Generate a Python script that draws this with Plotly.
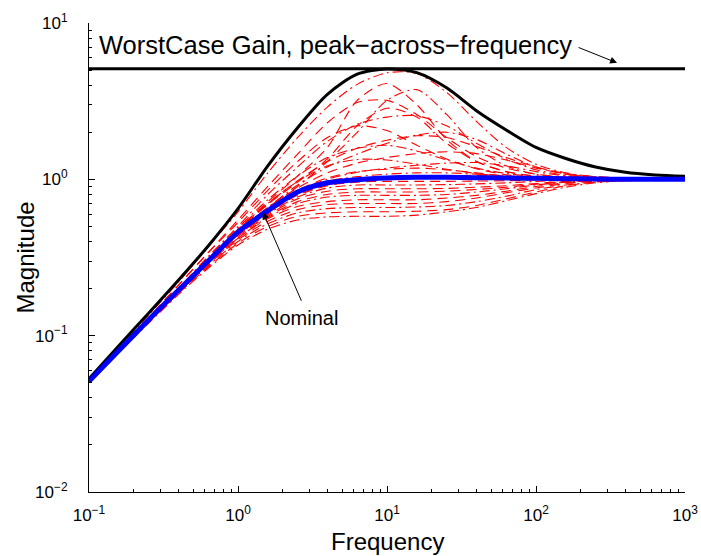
import plotly.graph_objects as go

# ---------------- data ----------------
freq_grid = [0.1, 0.158, 0.251, 0.398, 0.631, 1.0, 1.585, 2.512, 3.981, 6.31, 10.0,
             15.85, 25.12, 39.81, 63.1, 100.0, 158.5, 251.2, 398.1, 631.0, 1000.0]

# sampled (uncertain) responses, red
red_01 = [0.05, 0.082, 0.135, 0.22, 0.37, 0.62, 1.10, 1.85, 2.90, 4.05, 4.80, 4.75, 3.60, 2.35, 1.60, 1.25, 1.10, 1.04, 1.02, 1.01, 1.00]
red_02 = [0.05, 0.080, 0.130, 0.21, 0.34, 0.55, 0.90, 1.45, 2.30, 3.10, 3.20, 2.60, 1.85, 1.40, 1.18, 1.08, 1.03, 1.01, 1.00, 1.00, 1.00]
red_03 = [0.05, 0.080, 0.127, 0.20, 0.32, 0.50, 0.80, 1.20, 1.75, 2.25, 2.50, 2.55, 2.20, 1.70, 1.35, 1.15, 1.06, 1.02, 1.01, 1.00, 1.00]
red_04 = [0.05, 0.080, 0.130, 0.21, 0.34, 0.53, 0.85, 1.30, 1.85, 2.20, 2.05, 1.65, 1.35, 1.17, 1.07, 1.03, 1.01, 1.00, 1.00, 1.00, 1.00]
red_05 = [0.05, 0.080, 0.126, 0.195, 0.30, 0.47, 0.70, 0.98, 1.30, 1.58, 1.78, 1.90, 1.85, 1.62, 1.38, 1.20, 1.09, 1.04, 1.02, 1.01, 1.00]
red_06 = [0.05, 0.080, 0.127, 0.20, 0.32, 0.49, 0.74, 1.05, 1.38, 1.58, 1.65, 1.52, 1.33, 1.18, 1.09, 1.04, 1.02, 1.01, 1.00, 1.00, 1.00]
red_07 = [0.05, 0.080, 0.126, 0.195, 0.30, 0.46, 0.66, 0.88, 1.10, 1.27, 1.38, 1.46, 1.50, 1.46, 1.33, 1.18, 1.08, 1.03, 1.01, 1.00, 1.00]
red_08 = [0.05, 0.080, 0.127, 0.20, 0.31, 0.48, 0.70, 0.97, 1.22, 1.34, 1.33, 1.25, 1.16, 1.09, 1.04, 1.02, 1.01, 1.00, 1.00, 1.00, 1.00]
red_09 = [0.05, 0.080, 0.126, 0.195, 0.30, 0.45, 0.64, 0.84, 1.00, 1.11, 1.18, 1.23, 1.27, 1.28, 1.22, 1.12, 1.05, 1.02, 1.01, 1.00, 1.00]
red_10 = [0.05, 0.080, 0.126, 0.195, 0.30, 0.45, 0.64, 0.85, 1.02, 1.12, 1.16, 1.18, 1.15, 1.10, 1.05, 1.02, 1.01, 1.00, 1.00, 1.00, 1.00]
red_11 = [0.05, 0.080, 0.126, 0.195, 0.30, 0.45, 0.63, 0.82, 0.97, 1.04, 1.08, 1.10, 1.10, 1.08, 1.05, 1.02, 1.01, 1.00, 1.00, 1.00, 1.00]
red_12 = [0.05, 0.080, 0.126, 0.195, 0.30, 0.44, 0.61, 0.79, 0.91, 0.96, 0.97, 0.97, 0.97, 0.975, 0.98, 0.99, 0.995, 1.00, 1.00, 1.00, 1.00]
red_13 = [0.05, 0.080, 0.126, 0.195, 0.30, 0.44, 0.60, 0.77, 0.88, 0.92, 0.92, 0.92, 0.925, 0.935, 0.95, 0.97, 0.985, 0.995, 1.00, 1.00, 1.00]
red_14 = [0.05, 0.080, 0.126, 0.195, 0.30, 0.44, 0.59, 0.75, 0.84, 0.87, 0.87, 0.87, 0.875, 0.89, 0.91, 0.94, 0.97, 0.985, 0.995, 1.00, 1.00]
red_15 = [0.05, 0.080, 0.126, 0.19, 0.29, 0.43, 0.58, 0.72, 0.80, 0.83, 0.83, 0.83, 0.84, 0.86, 0.89, 0.93, 0.96, 0.98, 0.99, 1.00, 1.00]
red_16 = [0.05, 0.080, 0.125, 0.19, 0.29, 0.42, 0.57, 0.70, 0.77, 0.79, 0.79, 0.79, 0.80, 0.83, 0.87, 0.92, 0.96, 0.98, 0.99, 1.00, 1.00]
red_17 = [0.05, 0.080, 0.125, 0.19, 0.29, 0.42, 0.56, 0.67, 0.72, 0.74, 0.74, 0.74, 0.76, 0.79, 0.84, 0.90, 0.95, 0.98, 0.99, 1.00, 1.00]
red_18 = [0.05, 0.080, 0.124, 0.19, 0.285, 0.41, 0.54, 0.64, 0.69, 0.70, 0.70, 0.70, 0.72, 0.76, 0.82, 0.88, 0.94, 0.97, 0.99, 1.00, 1.00]
red_19 = [0.05, 0.079, 0.123, 0.188, 0.28, 0.40, 0.52, 0.61, 0.65, 0.66, 0.66, 0.665, 0.68, 0.72, 0.78, 0.86, 0.92, 0.96, 0.98, 0.99, 1.00]
red_20 = [0.05, 0.079, 0.122, 0.186, 0.275, 0.39, 0.50, 0.58, 0.61, 0.62, 0.62, 0.625, 0.64, 0.68, 0.75, 0.83, 0.91, 0.96, 0.98, 0.99, 1.00]
red_21 = [0.05, 0.078, 0.120, 0.183, 0.27, 0.38, 0.48, 0.55, 0.575, 0.58, 0.58, 0.59, 0.62, 0.66, 0.73, 0.81, 0.89, 0.95, 0.98, 0.99, 1.00]
red_22 = [0.05, 0.080, 0.126, 0.195, 0.30, 0.45, 0.62, 0.80, 0.92, 0.98, 1.01, 1.03, 1.05, 1.06, 1.05, 1.03, 1.01, 1.00, 1.00, 1.00, 1.00]
red_23 = [0.05, 0.080, 0.127, 0.20, 0.31, 0.48, 0.72, 1.05, 1.60, 3.20, 4.10, 3.00, 1.80, 1.30, 1.12, 1.05, 1.02, 1.01, 1.00, 1.00, 1.00]
red_24 = [0.05, 0.080, 0.126, 0.195, 0.30, 0.46, 0.66, 0.90, 1.30, 2.00, 3.20, 3.75, 2.60, 1.60, 1.22, 1.08, 1.03, 1.01, 1.00, 1.00, 1.00]
red_25 = [0.05, 0.080, 0.127, 0.20, 0.31, 0.47, 0.69, 0.96, 1.35, 2.20, 2.85, 2.50, 1.70, 1.30, 1.12, 1.05, 1.02, 1.01, 1.00, 1.00, 1.00]
red_26 = [0.05, 0.080, 0.126, 0.195, 0.30, 0.46, 0.66, 0.92, 1.20, 1.45, 1.70, 1.92, 2.00, 1.80, 1.45, 1.20, 1.08, 1.03, 1.01, 1.00, 1.00]

red_samples = [red_01, red_02, red_03, red_04, red_05, red_06, red_07, red_08, red_09, red_10, red_11, red_12, red_13,
               red_14, red_15, red_16, red_17, red_18, red_19, red_20, red_21, red_22, red_23, red_24, red_25, red_26]
red_styles = ["dashdot", "dash", "dashdot", "dash", "dash", "dashdot", "dash", "dashdot", "dashdot", "dash", "dashdot",
              "dash", "dashdot", "dash", "dash", "dashdot", "dash", "dash", "dashdot", "dash", "dashdot", "dash",
              "dash", "dashdot", "dash", "dashdot"]

# worst-case response, black
worst_mag = [0.053, 0.086, 0.139, 0.226, 0.375, 0.65, 1.22, 2.14, 3.50, 4.71, 5.08,
             4.81, 3.85, 2.75, 2.07, 1.60, 1.36, 1.20, 1.11, 1.067, 1.045]

# nominal response, blue
nominal_mag = [0.051, 0.080, 0.126, 0.195, 0.30, 0.46, 0.63, 0.83, 0.95, 0.995, 1.02,
               1.03, 1.03, 1.025, 1.02, 1.015, 1.01, 1.005, 1.0, 1.0, 1.0]

# worst-case gain (peak across frequency)
wc_freq = [0.1, 1000]
wc_gain = [5.1, 5.1]

# axis ticks
x_ticks = [0.1, 1, 10, 100, 1000]
x_labels = ["10<sup>\u22121</sup>", "10<sup>0</sup>", "10<sup>1</sup>", "10<sup>2</sup>", "10<sup>3</sup>"]
y_ticks = [0.01, 0.1, 1, 10]
y_labels = ["10<sup>\u22122</sup>", "10<sup>\u22121</sup>", "10<sup>0</sup>", "10<sup>1</sup>"]
minor_x = [m * d for d in (0.1, 1, 10, 100) for m in range(2, 10)]
minor_y = [m * d for d in (0.01, 0.1, 1) for m in range(2, 10)]

FONT = "Liberation Sans, Arial, Helvetica, sans-serif"
DASHES = {"dash": "10px,6px", "dashdot": "10px,4px,2px,4px"}

fig = go.Figure()
for vals, st in zip(red_samples, red_styles):
    fig.add_trace(go.Scatter(x=freq_grid, y=vals, mode="lines",
                             line=dict(color="#ff0000", width=1.1, dash=DASHES[st], shape="spline", smoothing=0.8),
                             hoverinfo="skip"))
fig.add_trace(go.Scatter(x=freq_grid, y=worst_mag, mode="lines",
                         line=dict(color="black", width=3, shape="spline", smoothing=0.8)))
fig.add_trace(go.Scatter(x=wc_freq, y=wc_gain, mode="lines",
                         line=dict(color="black", width=3)))
fig.add_trace(go.Scatter(x=freq_grid, y=nominal_mag, mode="lines",
                         line=dict(color="#0000ff", width=5, shape="spline", smoothing=0.8)))

axis_common = dict(type="log", showline=True, linecolor="black", linewidth=1, mirror=False,
                   ticks="inside", ticklen=6, tickcolor="black", tickwidth=1,
                   showgrid=False, zeroline=False, automargin=False, tickmode="array",
                   tickfont=dict(family=FONT, size=17, color="black"))

fig.update_layout(
    width=701, height=556,
    margin=dict(l=89, r=16, t=23, b=64),
    paper_bgcolor="white", plot_bgcolor="white",
    showlegend=False,
    font=dict(family=FONT, color="black"),
    xaxis=dict(range=[-1, 3], tickvals=x_ticks, ticktext=x_labels, ticklabelstandoff=8,
               minor=dict(ticks="inside", ticklen=3, tickcolor="black", tickmode="array", tickvals=minor_x, showgrid=False),
               **axis_common),
    yaxis=dict(range=[-2, 1], tickvals=y_ticks, ticktext=y_labels, ticklabelstandoff=17,
               minor=dict(ticks="inside", ticklen=3, tickcolor="black", tickmode="array", tickvals=minor_y, showgrid=False),
               **axis_common),
)

# axis titles
fig.add_annotation(xref="paper", yref="paper", x=(387 - 89) / 596, y=(492 - 541) / 469,
                   xanchor="center", yanchor="middle", showarrow=False, text="Frequency",
                   font=dict(family=FONT, size=24, color="black"))
fig.add_annotation(xref="paper", yref="paper", x=(25 - 89) / 596, y=0.5, textangle=-90,
                   xanchor="center", yanchor="middle", showarrow=False, text="Magnitude",
                   font=dict(family=FONT, size=24, color="black"))

fig.add_annotation(xref="paper", yref="paper", x=(97 - 89) / 596, y=(492 - 45) / 469,
                   xanchor="left", yanchor="middle", showarrow=False,
                   text="WorstCase Gain, peak\u2212across\u2212frequency",
                   font=dict(family=FONT, size=25.5, color="black"))
fig.add_annotation(xref="x", yref="y", x=2.544, y=0.745, text="", showarrow=True,
                   ax=-40, ay=-16, arrowhead=2, arrowsize=1.4, arrowwidth=1, arrowcolor="black")
fig.add_annotation(xref="x", yref="y", x=0.168, y=-0.211, text="", showarrow=True,
                   ax=39, ay=90, arrowhead=2, arrowsize=1.4, arrowwidth=1, arrowcolor="black")
fig.add_annotation(xref="paper", yref="paper", x=(301 - 89) / 596, y=(492 - 318) / 469,
                   xanchor="center", yanchor="middle", showarrow=False, text="Nominal",
                   font=dict(family=FONT, size=20, color="black"))

fig.write_html("out.html", config={"displayModeBar": False},
               post_script="document.body.style.margin='0px';")
